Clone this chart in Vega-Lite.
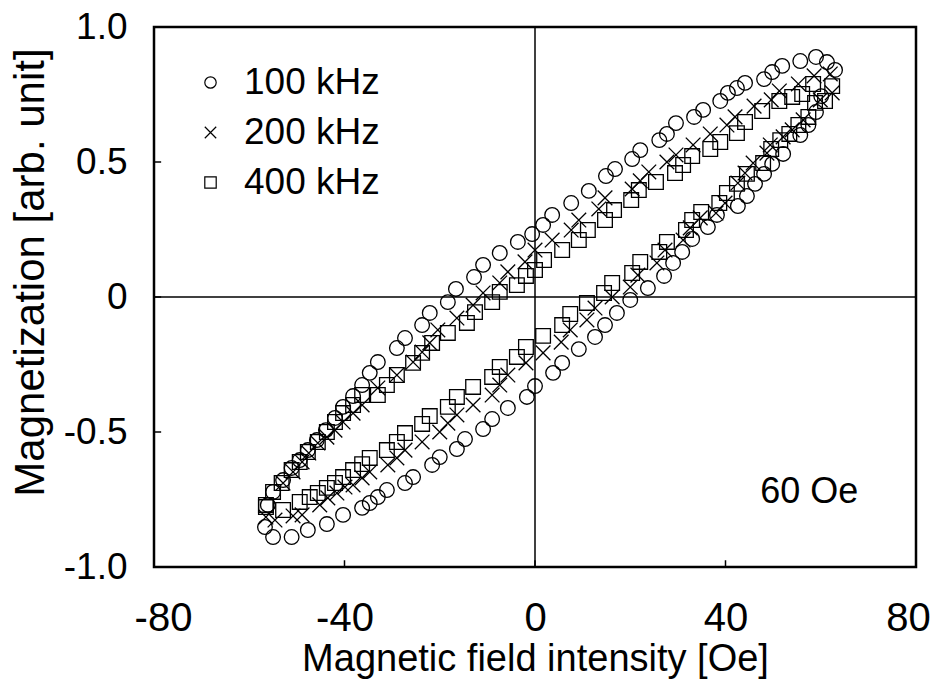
{
  "$schema": "https://vega.github.io/schema/vega-lite/v6.json",
  "width": 762,
  "height": 540,
  "autosize": "none",
  "padding": {"left": 154, "top": 27, "right": 21, "bottom": 114},
  "background": "white",
  "config": {
    "view": {"stroke": "black", "strokeWidth": 2.5},
    "axis": {"domain": false, "grid": false, "ticks": false, "labelColor": "black", "titleColor": "black", "titleFontWeight": "normal", "labelFont": "Liberation Sans", "titleFont": "Liberation Sans"},
    "legend": {"labelFont": "Liberation Sans"}
  },
  "datasets": {
    "loops": [
      {"H": -56.7, "M": -0.852, "f": "100 kHz"}, {"H": -56.1, "M": -0.77, "f": "100 kHz"}, {"H": -55.0, "M": -0.722, "f": "100 kHz"}, {"H": -52.9, "M": -0.678, "f": "100 kHz"}, {"H": -51.1, "M": -0.633, "f": "100 kHz"}, {"H": -49.4, "M": -0.604, "f": "100 kHz"}, {"H": -47.7, "M": -0.567, "f": "100 kHz"}, {"H": -45.8, "M": -0.53, "f": "100 kHz"}, {"H": -43.9, "M": -0.493, "f": "100 kHz"}, {"H": -42.0, "M": -0.448, "f": "100 kHz"}, {"H": -40.3, "M": -0.407, "f": "100 kHz"}, {"H": -38.2, "M": -0.367, "f": "100 kHz"}, {"H": -36.3, "M": -0.326, "f": "100 kHz"}, {"H": -34.7, "M": -0.281, "f": "100 kHz"}, {"H": -33.0, "M": -0.241, "f": "100 kHz"}, {"H": -29.0, "M": -0.189, "f": "100 kHz"}, {"H": -27.3, "M": -0.152, "f": "100 kHz"}, {"H": -23.7, "M": -0.104, "f": "100 kHz"}, {"H": -22.1, "M": -0.059, "f": "100 kHz"}, {"H": -18.3, "M": -0.019, "f": "100 kHz"}, {"H": -16.6, "M": 0.03, "f": "100 kHz"}, {"H": -12.8, "M": 0.074, "f": "100 kHz"}, {"H": -10.9, "M": 0.119, "f": "100 kHz"}, {"H": -7.4, "M": 0.163, "f": "100 kHz"}, {"H": -3.6, "M": 0.204, "f": "100 kHz"}, {"H": -0.6, "M": 0.233, "f": "100 kHz"}, {"H": 1.7, "M": 0.267, "f": "100 kHz"}, {"H": 3.6, "M": 0.304, "f": "100 kHz"}, {"H": 7.6, "M": 0.348, "f": "100 kHz"}, {"H": 11.3, "M": 0.393, "f": "100 kHz"}, {"H": 14.9, "M": 0.448, "f": "100 kHz"}, {"H": 16.8, "M": 0.474, "f": "100 kHz"}, {"H": 20.4, "M": 0.511, "f": "100 kHz"}, {"H": 22.1, "M": 0.544, "f": "100 kHz"}, {"H": 26.1, "M": 0.581, "f": "100 kHz"}, {"H": 27.7, "M": 0.604, "f": "100 kHz"}, {"H": 29.6, "M": 0.644, "f": "100 kHz"}, {"H": 33.4, "M": 0.667, "f": "100 kHz"}, {"H": 35.3, "M": 0.693, "f": "100 kHz"}, {"H": 38.9, "M": 0.726, "f": "100 kHz"}, {"H": 40.5, "M": 0.756, "f": "100 kHz"}, {"H": 42.4, "M": 0.774, "f": "100 kHz"}, {"H": 44.1, "M": 0.793, "f": "100 kHz"}, {"H": 48.1, "M": 0.807, "f": "100 kHz"}, {"H": 49.8, "M": 0.833, "f": "100 kHz"}, {"H": 51.9, "M": 0.856, "f": "100 kHz"}, {"H": 55.7, "M": 0.874, "f": "100 kHz"}, {"H": 59.0, "M": 0.889, "f": "100 kHz"}, {"H": 61.3, "M": 0.87, "f": "100 kHz"}, {"H": 63.0, "M": 0.841, "f": "100 kHz"},
      {"H": 60.1, "M": 0.744, "f": "100 kHz"}, {"H": 59.0, "M": 0.685, "f": "100 kHz"}, {"H": 57.4, "M": 0.637, "f": "100 kHz"}, {"H": 55.7, "M": 0.6, "f": "100 kHz"}, {"H": 52.1, "M": 0.53, "f": "100 kHz"}, {"H": 49.8, "M": 0.493, "f": "100 kHz"}, {"H": 48.1, "M": 0.456, "f": "100 kHz"}, {"H": 46.2, "M": 0.419, "f": "100 kHz"}, {"H": 44.5, "M": 0.374, "f": "100 kHz"}, {"H": 42.6, "M": 0.337, "f": "100 kHz"}, {"H": 38.2, "M": 0.304, "f": "100 kHz"}, {"H": 36.3, "M": 0.259, "f": "100 kHz"}, {"H": 33.0, "M": 0.215, "f": "100 kHz"}, {"H": 30.9, "M": 0.167, "f": "100 kHz"}, {"H": 29.0, "M": 0.126, "f": "100 kHz"}, {"H": 27.1, "M": 0.078, "f": "100 kHz"}, {"H": 23.7, "M": 0.033, "f": "100 kHz"}, {"H": 20.0, "M": -0.011, "f": "100 kHz"}, {"H": 17.2, "M": -0.059, "f": "100 kHz"}, {"H": 14.7, "M": -0.104, "f": "100 kHz"}, {"H": 12.6, "M": -0.148, "f": "100 kHz"}, {"H": 9.2, "M": -0.193, "f": "100 kHz"}, {"H": 5.7, "M": -0.244, "f": "100 kHz"}, {"H": 3.8, "M": -0.281, "f": "100 kHz"}, {"H": 0.0, "M": -0.33, "f": "100 kHz"}, {"H": -1.7, "M": -0.37, "f": "100 kHz"}, {"H": -5.7, "M": -0.411, "f": "100 kHz"}, {"H": -9.0, "M": -0.452, "f": "100 kHz"}, {"H": -10.9, "M": -0.489, "f": "100 kHz"}, {"H": -14.7, "M": -0.526, "f": "100 kHz"}, {"H": -16.4, "M": -0.563, "f": "100 kHz"}, {"H": -20.0, "M": -0.593, "f": "100 kHz"}, {"H": -21.6, "M": -0.622, "f": "100 kHz"}, {"H": -25.6, "M": -0.667, "f": "100 kHz"}, {"H": -27.3, "M": -0.689, "f": "100 kHz"}, {"H": -31.1, "M": -0.715, "f": "100 kHz"}, {"H": -33.0, "M": -0.741, "f": "100 kHz"}, {"H": -34.7, "M": -0.763, "f": "100 kHz"}, {"H": -36.3, "M": -0.781, "f": "100 kHz"}, {"H": -40.3, "M": -0.807, "f": "100 kHz"}, {"H": -43.7, "M": -0.841, "f": "100 kHz"}, {"H": -47.7, "M": -0.863, "f": "100 kHz"}, {"H": -51.1, "M": -0.889, "f": "100 kHz"}, {"H": -55.0, "M": -0.889, "f": "100 kHz"},
      {"H": -56.5, "M": -0.815, "f": "200 kHz"}, {"H": -52.9, "M": -0.689, "f": "200 kHz"}, {"H": -50.8, "M": -0.648, "f": "200 kHz"}, {"H": -48.9, "M": -0.611, "f": "200 kHz"}, {"H": -47.5, "M": -0.578, "f": "200 kHz"}, {"H": -45.6, "M": -0.541, "f": "200 kHz"}, {"H": -43.7, "M": -0.519, "f": "200 kHz"}, {"H": -42.0, "M": -0.493, "f": "200 kHz"}, {"H": -40.3, "M": -0.463, "f": "200 kHz"}, {"H": -38.2, "M": -0.43, "f": "200 kHz"}, {"H": -36.3, "M": -0.4, "f": "200 kHz"}, {"H": -33.0, "M": -0.337, "f": "200 kHz"}, {"H": -29.0, "M": -0.289, "f": "200 kHz"}, {"H": -25.6, "M": -0.241, "f": "200 kHz"}, {"H": -23.7, "M": -0.204, "f": "200 kHz"}, {"H": -22.1, "M": -0.17, "f": "200 kHz"}, {"H": -20.4, "M": -0.122, "f": "200 kHz"}, {"H": -16.4, "M": -0.078, "f": "200 kHz"}, {"H": -13.0, "M": -0.03, "f": "200 kHz"}, {"H": -10.9, "M": 0.015, "f": "200 kHz"}, {"H": -7.4, "M": 0.052, "f": "200 kHz"}, {"H": -5.7, "M": 0.093, "f": "200 kHz"}, {"H": -2.1, "M": 0.13, "f": "200 kHz"}, {"H": 0.0, "M": 0.174, "f": "200 kHz"}, {"H": 3.6, "M": 0.211, "f": "200 kHz"}, {"H": 7.6, "M": 0.248, "f": "200 kHz"}, {"H": 9.2, "M": 0.285, "f": "200 kHz"}, {"H": 13.4, "M": 0.326, "f": "200 kHz"}, {"H": 14.7, "M": 0.367, "f": "200 kHz"}, {"H": 20.4, "M": 0.4, "f": "200 kHz"}, {"H": 22.1, "M": 0.43, "f": "200 kHz"}, {"H": 23.9, "M": 0.463, "f": "200 kHz"}, {"H": 27.7, "M": 0.5, "f": "200 kHz"}, {"H": 29.6, "M": 0.526, "f": "200 kHz"}, {"H": 33.2, "M": 0.563, "f": "200 kHz"}, {"H": 36.8, "M": 0.604, "f": "200 kHz"}, {"H": 40.3, "M": 0.637, "f": "200 kHz"}, {"H": 42.0, "M": 0.667, "f": "200 kHz"}, {"H": 46.0, "M": 0.707, "f": "200 kHz"}, {"H": 49.6, "M": 0.73, "f": "200 kHz"}, {"H": 51.3, "M": 0.763, "f": "200 kHz"}, {"H": 55.3, "M": 0.789, "f": "200 kHz"}, {"H": 58.6, "M": 0.819, "f": "200 kHz"}, {"H": 62.0, "M": 0.826, "f": "200 kHz"},
      {"H": 62.4, "M": 0.756, "f": "200 kHz"}, {"H": 59.9, "M": 0.73, "f": "200 kHz"}, {"H": 56.3, "M": 0.656, "f": "200 kHz"}, {"H": 54.0, "M": 0.619, "f": "200 kHz"}, {"H": 52.1, "M": 0.593, "f": "200 kHz"}, {"H": 49.4, "M": 0.563, "f": "200 kHz"}, {"H": 48.7, "M": 0.533, "f": "200 kHz"}, {"H": 45.8, "M": 0.496, "f": "200 kHz"}, {"H": 44.1, "M": 0.459, "f": "200 kHz"}, {"H": 42.6, "M": 0.422, "f": "200 kHz"}, {"H": 39.9, "M": 0.348, "f": "200 kHz"}, {"H": 38.0, "M": 0.311, "f": "200 kHz"}, {"H": 34.7, "M": 0.293, "f": "200 kHz"}, {"H": 32.6, "M": 0.256, "f": "200 kHz"}, {"H": 31.1, "M": 0.211, "f": "200 kHz"}, {"H": 27.3, "M": 0.174, "f": "200 kHz"}, {"H": 25.6, "M": 0.126, "f": "200 kHz"}, {"H": 21.6, "M": 0.081, "f": "200 kHz"}, {"H": 20.0, "M": 0.037, "f": "200 kHz"}, {"H": 16.2, "M": 0.0, "f": "200 kHz"}, {"H": 12.6, "M": -0.041, "f": "200 kHz"}, {"H": 10.9, "M": -0.085, "f": "200 kHz"}, {"H": 7.4, "M": -0.122, "f": "200 kHz"}, {"H": 5.5, "M": -0.167, "f": "200 kHz"}, {"H": 1.7, "M": -0.207, "f": "200 kHz"}, {"H": -1.9, "M": -0.244, "f": "200 kHz"}, {"H": -5.7, "M": -0.289, "f": "200 kHz"}, {"H": -7.4, "M": -0.326, "f": "200 kHz"}, {"H": -9.0, "M": -0.363, "f": "200 kHz"}, {"H": -13.0, "M": -0.4, "f": "200 kHz"}, {"H": -16.4, "M": -0.437, "f": "200 kHz"}, {"H": -18.3, "M": -0.467, "f": "200 kHz"}, {"H": -20.0, "M": -0.5, "f": "200 kHz"}, {"H": -23.7, "M": -0.537, "f": "200 kHz"}, {"H": -27.3, "M": -0.567, "f": "200 kHz"}, {"H": -29.0, "M": -0.596, "f": "200 kHz"}, {"H": -30.9, "M": -0.622, "f": "200 kHz"}, {"H": -34.7, "M": -0.648, "f": "200 kHz"}, {"H": -36.3, "M": -0.67, "f": "200 kHz"}, {"H": -38.2, "M": -0.696, "f": "200 kHz"}, {"H": -39.9, "M": -0.704, "f": "200 kHz"}, {"H": -41.6, "M": -0.726, "f": "200 kHz"}, {"H": -43.5, "M": -0.744, "f": "200 kHz"}, {"H": -45.2, "M": -0.77, "f": "200 kHz"}, {"H": -48.9, "M": -0.807, "f": "200 kHz"}, {"H": -50.8, "M": -0.811, "f": "200 kHz"}, {"H": -54.6, "M": -0.826, "f": "200 kHz"},
      {"H": -56.5, "M": -0.77, "f": "400 kHz"}, {"H": -55.0, "M": -0.722, "f": "400 kHz"}, {"H": -53.2, "M": -0.689, "f": "400 kHz"}, {"H": -51.1, "M": -0.641, "f": "400 kHz"}, {"H": -49.4, "M": -0.611, "f": "400 kHz"}, {"H": -47.7, "M": -0.574, "f": "400 kHz"}, {"H": -45.6, "M": -0.537, "f": "400 kHz"}, {"H": -43.7, "M": -0.5, "f": "400 kHz"}, {"H": -42.0, "M": -0.463, "f": "400 kHz"}, {"H": -40.3, "M": -0.43, "f": "400 kHz"}, {"H": -38.2, "M": -0.4, "f": "400 kHz"}, {"H": -36.3, "M": -0.363, "f": "400 kHz"}, {"H": -33.0, "M": -0.363, "f": "400 kHz"}, {"H": -31.1, "M": -0.326, "f": "400 kHz"}, {"H": -29.0, "M": -0.289, "f": "400 kHz"}, {"H": -25.6, "M": -0.244, "f": "400 kHz"}, {"H": -23.7, "M": -0.207, "f": "400 kHz"}, {"H": -21.6, "M": -0.17, "f": "400 kHz"}, {"H": -18.3, "M": -0.133, "f": "400 kHz"}, {"H": -14.3, "M": -0.096, "f": "400 kHz"}, {"H": -12.6, "M": -0.056, "f": "400 kHz"}, {"H": -9.0, "M": -0.019, "f": "400 kHz"}, {"H": -7.4, "M": 0.019, "f": "400 kHz"}, {"H": -3.8, "M": 0.044, "f": "400 kHz"}, {"H": -1.9, "M": 0.078, "f": "400 kHz"}, {"H": 0.0, "M": 0.1, "f": "400 kHz"}, {"H": 1.9, "M": 0.137, "f": "400 kHz"}, {"H": 5.7, "M": 0.174, "f": "400 kHz"}, {"H": 9.2, "M": 0.211, "f": "400 kHz"}, {"H": 11.1, "M": 0.248, "f": "400 kHz"}, {"H": 14.7, "M": 0.285, "f": "400 kHz"}, {"H": 16.6, "M": 0.322, "f": "400 kHz"}, {"H": 20.2, "M": 0.359, "f": "400 kHz"}, {"H": 21.8, "M": 0.396, "f": "400 kHz"}, {"H": 25.4, "M": 0.426, "f": "400 kHz"}, {"H": 29.4, "M": 0.459, "f": "400 kHz"}, {"H": 31.1, "M": 0.489, "f": "400 kHz"}, {"H": 33.0, "M": 0.522, "f": "400 kHz"}, {"H": 36.8, "M": 0.548, "f": "400 kHz"}, {"H": 38.9, "M": 0.574, "f": "400 kHz"}, {"H": 42.4, "M": 0.607, "f": "400 kHz"}, {"H": 44.1, "M": 0.648, "f": "400 kHz"}, {"H": 47.7, "M": 0.689, "f": "400 kHz"}, {"H": 51.3, "M": 0.726, "f": "400 kHz"}, {"H": 54.0, "M": 0.741, "f": "400 kHz"}, {"H": 56.1, "M": 0.752, "f": "400 kHz"}, {"H": 58.4, "M": 0.789, "f": "400 kHz"}, {"H": 62.4, "M": 0.781, "f": "400 kHz"},
      {"H": 60.9, "M": 0.726, "f": "400 kHz"}, {"H": 58.8, "M": 0.719, "f": "400 kHz"}, {"H": 57.4, "M": 0.667, "f": "400 kHz"}, {"H": 55.3, "M": 0.637, "f": "400 kHz"}, {"H": 53.4, "M": 0.604, "f": "400 kHz"}, {"H": 51.5, "M": 0.581, "f": "400 kHz"}, {"H": 49.6, "M": 0.548, "f": "400 kHz"}, {"H": 47.9, "M": 0.496, "f": "400 kHz"}, {"H": 44.5, "M": 0.456, "f": "400 kHz"}, {"H": 42.4, "M": 0.419, "f": "400 kHz"}, {"H": 40.3, "M": 0.385, "f": "400 kHz"}, {"H": 38.7, "M": 0.348, "f": "400 kHz"}, {"H": 34.9, "M": 0.315, "f": "400 kHz"}, {"H": 33.0, "M": 0.285, "f": "400 kHz"}, {"H": 31.7, "M": 0.248, "f": "400 kHz"}, {"H": 27.7, "M": 0.204, "f": "400 kHz"}, {"H": 26.1, "M": 0.167, "f": "400 kHz"}, {"H": 22.1, "M": 0.13, "f": "400 kHz"}, {"H": 20.4, "M": 0.089, "f": "400 kHz"}, {"H": 16.2, "M": 0.052, "f": "400 kHz"}, {"H": 14.5, "M": 0.015, "f": "400 kHz"}, {"H": 10.9, "M": -0.022, "f": "400 kHz"}, {"H": 7.4, "M": -0.063, "f": "400 kHz"}, {"H": 5.7, "M": -0.104, "f": "400 kHz"}, {"H": 1.7, "M": -0.144, "f": "400 kHz"}, {"H": -1.9, "M": -0.185, "f": "400 kHz"}, {"H": -3.8, "M": -0.222, "f": "400 kHz"}, {"H": -7.4, "M": -0.259, "f": "400 kHz"}, {"H": -9.0, "M": -0.296, "f": "400 kHz"}, {"H": -13.0, "M": -0.333, "f": "400 kHz"}, {"H": -16.4, "M": -0.37, "f": "400 kHz"}, {"H": -18.3, "M": -0.407, "f": "400 kHz"}, {"H": -22.1, "M": -0.441, "f": "400 kHz"}, {"H": -23.7, "M": -0.47, "f": "400 kHz"}, {"H": -27.3, "M": -0.504, "f": "400 kHz"}, {"H": -29.0, "M": -0.537, "f": "400 kHz"}, {"H": -31.1, "M": -0.567, "f": "400 kHz"}, {"H": -34.7, "M": -0.596, "f": "400 kHz"}, {"H": -36.3, "M": -0.619, "f": "400 kHz"}, {"H": -38.2, "M": -0.641, "f": "400 kHz"}, {"H": -40.3, "M": -0.667, "f": "400 kHz"}, {"H": -42.0, "M": -0.689, "f": "400 kHz"}, {"H": -43.7, "M": -0.707, "f": "400 kHz"}, {"H": -45.6, "M": -0.726, "f": "400 kHz"}, {"H": -47.3, "M": -0.741, "f": "400 kHz"}, {"H": -49.4, "M": -0.759, "f": "400 kHz"}, {"H": -52.9, "M": -0.789, "f": "400 kHz"}, {"H": -56.5, "M": -0.778, "f": "400 kHz"}
    ],
    "zeroX": [{"H": 0}],
    "zeroY": [{"M": 0}],
    "ticksX": [{"H": -40}, {"H": 0}, {"H": 40}],
    "ticksY": [{"M": -0.5}, {"M": 0}, {"M": 0.5}],
    "note": [{"H": 57.6, "M": -0.722, "label": "60 Oe"}]
  },
  "layer": [
    {
      "data": {"name": "zeroX"},
      "mark": {"type": "rule", "color": "black", "strokeWidth": 1.5},
      "encoding": {"x": {"field": "H", "type": "quantitative", "scale": {"domain": [-80, 80], "nice": false, "zero": false}}}
    },
    {
      "data": {"name": "zeroY"},
      "mark": {"type": "rule", "color": "black", "strokeWidth": 1.5},
      "encoding": {"y": {"field": "M", "type": "quantitative", "scale": {"domain": [-1, 1], "nice": false}}}
    },
    {
      "data": {"name": "ticksX"},
      "mark": {"type": "rule", "color": "black", "strokeWidth": 1.5},
      "encoding": {
        "x": {"field": "H", "type": "quantitative"},
        "y": {"datum": -1},
        "y2": {"datum": -0.975}
      }
    },
    {
      "data": {"name": "ticksY"},
      "mark": {"type": "rule", "color": "black", "strokeWidth": 1.5},
      "encoding": {
        "y": {"field": "M", "type": "quantitative"},
        "x": {"datum": -80},
        "x2": {"datum": -78.5}
      }
    },
    {
      "data": {"name": "loops"},
      "mark": {"type": "point", "filled": false, "color": "black", "strokeWidth": 1.3, "opacity": 1, "size": 215},
      "encoding": {
        "x": {
          "field": "H", "type": "quantitative",
          "scale": {"domain": [-80, 80], "nice": false, "zero": false},
          "axis": {
            "values": [-80, -40, 0, 40, 80],
            "title": "Magnetic field intensity [Oe]",
            "labelExpr": "(datum.value < 0 ? '-' : '') + abs(datum.value)",
            "labelOffset": {"expr": "datum.value == 80 ? -8 : (datum.value == -80 ? 9 : 0)"},
            "labelPadding": 31,
            "labelFontSize": 40,
            "titleFontSize": 38,
            "titlePadding": 2,
            "labelFlush": false
          }
        },
        "y": {
          "field": "M", "type": "quantitative",
          "scale": {"domain": [-1, 1], "nice": false},
          "axis": {
            "values": [-1, -0.5, 0, 0.5, 1],
            "title": "Magnetization [arb. unit]",
            "labelExpr": "datum.value == 0 ? '0' : (datum.value < 0 ? '-' : '') + format(abs(datum.value), '.1f')",
            "labelPadding": 27,
            "labelFontSize": 37,
            "titleFontSize": 42,
            "titleX": -124,
            "titleY": 245,
            "titleBaseline": "middle",
            "labelFlush": false
          }
        },
        "shape": {
          "field": "f", "type": "nominal",
          "scale": {"domain": ["100 kHz", "200 kHz", "400 kHz"], "range": ["circle", "M-1,-1L1,1M-1,1L1,-1", "square"]},
          "legend": {
            "orient": "none", "legendX": 38, "legendY": 37, "title": null,
            "labelFontSize": 37, "symbolSize": 130, "symbolStrokeColor": "black", "symbolStrokeWidth": 1.2,
            "symbolFillColor": "white", "rowPadding": 12, "labelOffset": 15, "labelColor": "black"
          }
        }
      }
    },
    {
      "data": {"name": "note"},
      "mark": {"type": "text", "fontSize": 36, "font": "Liberation Sans", "color": "black", "align": "center", "baseline": "middle"},
      "encoding": {
        "x": {"field": "H", "type": "quantitative"},
        "y": {"field": "M", "type": "quantitative"},
        "text": {"field": "label"}
      }
    }
  ]
}
